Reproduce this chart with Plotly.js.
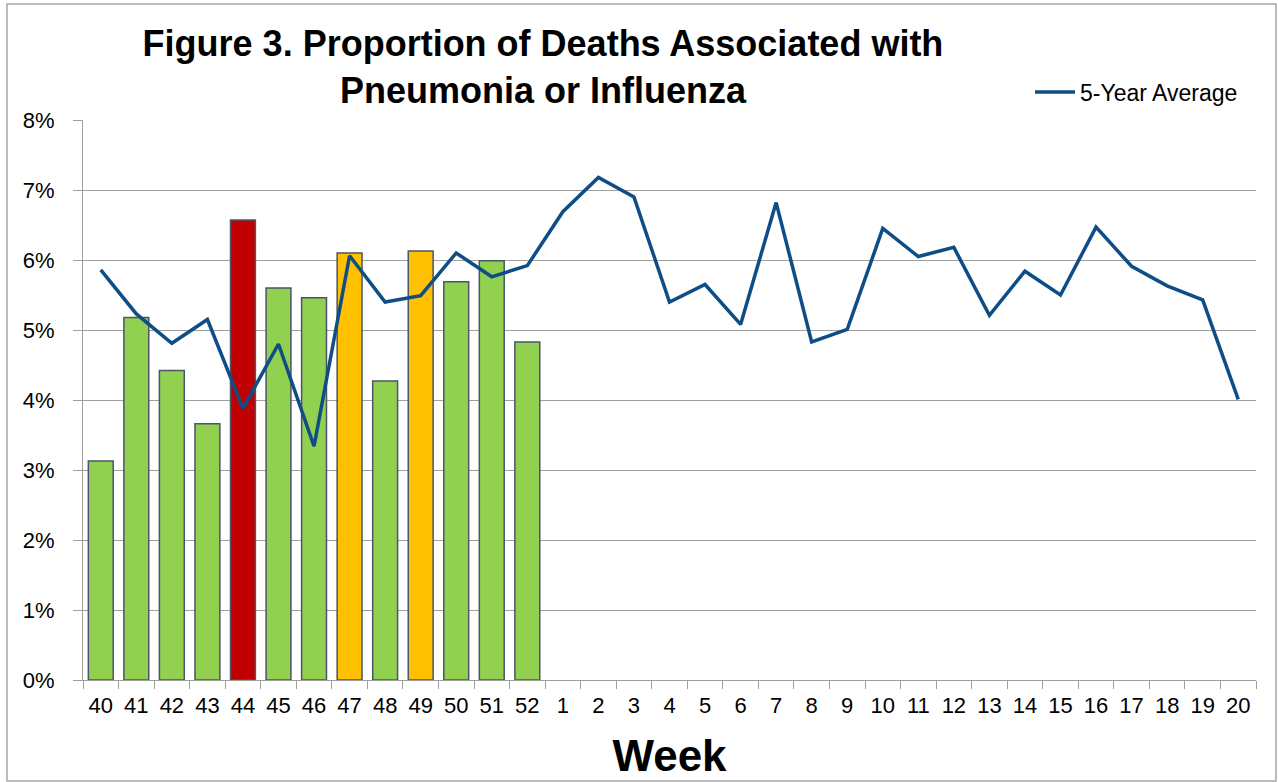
<!DOCTYPE html>
<html>
<head>
<meta charset="utf-8">
<script src="https://cdn.plot.ly/plotly-3.0.1.min.js"></script>
<style>
  html, body { margin: 0; padding: 0; background: #ffffff; }
  #chart { width: 1278px; height: 782px; }
</style>
</head>
<body>
<div id="chart"></div>
<script>
// Week labels (season weeks 40-52, then 1-20)
const weeks = ["40","41","42","43","44","45","46","47","48","49","50","51","52",
               "1","2","3","4","5","6","7","8","9","10","11","12","13","14","15","16","17","18","19","20"];

// Current season proportion of deaths (%) — weeks 40..52
const barWeeks = ["40","41","42","43","44","45","46","47","48","49","50","51","52"];
const currentPct = [3.13, 5.18, 4.42, 3.66, 6.57, 5.60, 5.46, 6.10, 4.27, 6.13, 5.69, 5.99, 4.83];

// Alert level for each bar: "normal", "moderate", "high"
const alertLevel = ["normal","normal","normal","normal","high","normal","normal","moderate","normal","moderate","normal","normal","normal"];

// 5-year average (%) — weeks 40..20
const fiveYearAvg = [5.86, 5.23, 4.81, 5.15, 3.88, 4.80, 3.34, 6.06, 5.40, 5.49, 6.10, 5.76, 5.92,
                     6.69, 7.18, 6.90, 5.40, 5.65, 5.08, 6.82, 4.83, 5.01, 6.45, 6.05, 6.18,
                     5.21, 5.84, 5.50, 6.47, 5.91, 5.63, 5.43, 4.01];

const yTickVals = [0, 1, 2, 3, 4, 5, 6, 7, 8];
const yTickText = ["0%","1%","2%","3%","4%","5%","6%","7%","8%"];

const levelColor = { normal: "#92d050", moderate: "#ffc000", high: "#c00000" };

const bars = {
  type: "bar",
  x: barWeeks,
  y: currentPct,
  marker: {
    color: alertLevel.map(l => levelColor[l]),
    line: { color: "#4a5568", width: 1.5 }
  },
  showlegend: false,
  hoverinfo: "x+y"
};

const avgLine = {
  type: "scatter",
  mode: "lines",
  name: "5-Year Average",
  x: weeks,
  y: fiveYearAvg,
  line: { color: "#0e4d86", width: 3.5 }
};

const L = 83, R = 22, T = 120, B = 102;
const W = 1278, H = 782;
const pw = W - L - R, ph = H - T - B;

const layout = {
  width: W, height: H,
  margin: { l: L, r: R, t: T, b: B, pad: 0 },
  paper_bgcolor: "#ffffff",
  plot_bgcolor: "#ffffff",
  font: { family: "Liberation Sans, Arial, sans-serif", color: "#000000" },
  title: {
    text: "<b>Figure 3. Proportion of Deaths Associated with<br>Pneumonia or Influenza</b>",
    font: { size: 36, family: "Liberation Sans, Arial, sans-serif", color: "#000000" },
    xref: "container", yref: "container",
    x: 543 / W, xanchor: "center",
    y: 1 - 56 / H, yanchor: "middle"
  },
  bargap: 0.3,
  xaxis: {
    type: "category",
    categoryorder: "array",
    categoryarray: weeks,
    tickson: "boundaries",
    ticks: "outside",
    ticklen: 8,
    tickcolor: "#a0a0a0",
    showline: true,
    linecolor: "#a0a0a0",
    linewidth: 1,
    showgrid: false,
    tickfont: { size: 22, color: "#000000" },
    ticklabelstandoff: 6,
    range: [-0.5, 32.5],
    title: { text: "<b>Week</b>", font: { size: 44, color: "#000000" }, standoff: 22 }
  },
  yaxis: {
    range: [0, 8],
    tickvals: yTickVals,
    ticktext: yTickText,
    ticks: "outside",
    ticklen: 9,
    tickcolor: "#a0a0a0",
    showline: true,
    linecolor: "#a0a0a0",
    linewidth: 1,
    showgrid: true,
    gridcolor: "#a0a0a0",
    gridwidth: 1,
    zeroline: false,
    tickfont: { size: 22, color: "#000000" },
    ticklabelstandoff: 14
  },
  legend: {
    x: (1030 - L) / pw, xanchor: "left",
    y: (H - B - 92) / ph, yanchor: "middle",
    bgcolor: "rgba(0,0,0,0)",
    font: { size: 23, color: "#000000" },
    itemwidth: 40
  },
  shapes: [{
    type: "rect", xref: "paper", yref: "paper",
    x0: (7 - L) / pw, x1: (1276 - L) / pw,
    y0: (H - B - 781) / ph, y1: (H - B - 4) / ph,
    line: { color: "#a6a6a6", width: 1.5 },
    fillcolor: "rgba(0,0,0,0)",
    layer: "below"
  }]
};

Plotly.newPlot("chart", [bars, avgLine], layout, { displayModeBar: false, staticPlot: true });
</script>
</body>
</html>
